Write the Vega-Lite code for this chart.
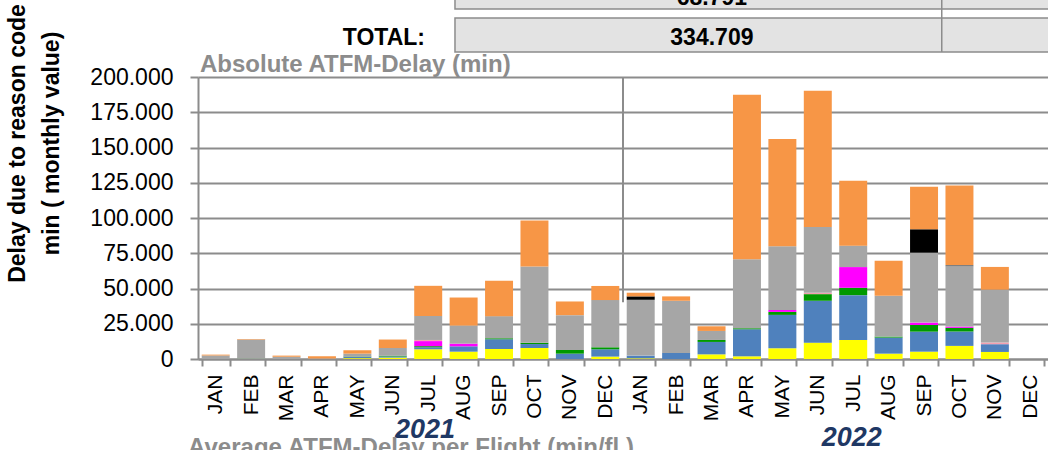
{
  "$schema": "https://vega.github.io/schema/vega-lite/v6.json",
  "autosize": {"type": "none"},
  "padding": {"left": 198, "top": 77, "right": 0, "bottom": 91},
  "width": 850,
  "height": 282,
  "background": "white",
  "config": {"view": {"stroke": null}, "font": "Liberation Sans"},
  "data": {"values": [
    {"month": "JAN 2021", "reason": "Reason F", "minutes": 2500},
    {"month": "JAN 2021", "reason": "Reason I", "minutes": 600},
    {"month": "FEB 2021", "reason": "Reason C", "minutes": 200},
    {"month": "FEB 2021", "reason": "Reason F", "minutes": 13600},
    {"month": "FEB 2021", "reason": "Reason I", "minutes": 400},
    {"month": "MAR 2021", "reason": "Reason F", "minutes": 1600},
    {"month": "MAR 2021", "reason": "Reason I", "minutes": 800},
    {"month": "APR 2021", "reason": "Reason F", "minutes": 400},
    {"month": "APR 2021", "reason": "Reason I", "minutes": 1500},
    {"month": "MAY 2021", "reason": "Reason A", "minutes": 600},
    {"month": "MAY 2021", "reason": "Reason B", "minutes": 800},
    {"month": "MAY 2021", "reason": "Reason C", "minutes": 300},
    {"month": "MAY 2021", "reason": "Reason F", "minutes": 2100},
    {"month": "MAY 2021", "reason": "Reason I", "minutes": 2400},
    {"month": "JUN 2021", "reason": "Reason A", "minutes": 1000},
    {"month": "JUN 2021", "reason": "Reason B", "minutes": 800},
    {"month": "JUN 2021", "reason": "Reason C", "minutes": 500},
    {"month": "JUN 2021", "reason": "Reason F", "minutes": 5500},
    {"month": "JUN 2021", "reason": "Reason I", "minutes": 6000},
    {"month": "JUL 2021", "reason": "Reason A", "minutes": 6900},
    {"month": "JUL 2021", "reason": "Reason B", "minutes": 1400},
    {"month": "JUL 2021", "reason": "Reason C", "minutes": 800},
    {"month": "JUL 2021", "reason": "Reason D", "minutes": 3600},
    {"month": "JUL 2021", "reason": "Reason E", "minutes": 800},
    {"month": "JUL 2021", "reason": "Reason F", "minutes": 17000},
    {"month": "JUL 2021", "reason": "Reason I", "minutes": 21400},
    {"month": "AUG 2021", "reason": "Reason A", "minutes": 5200},
    {"month": "AUG 2021", "reason": "Reason B", "minutes": 3800},
    {"month": "AUG 2021", "reason": "Reason D", "minutes": 1900},
    {"month": "AUG 2021", "reason": "Reason F", "minutes": 12800},
    {"month": "AUG 2021", "reason": "Reason I", "minutes": 19900},
    {"month": "SEP 2021", "reason": "Reason A", "minutes": 7100},
    {"month": "SEP 2021", "reason": "Reason B", "minutes": 6900},
    {"month": "SEP 2021", "reason": "Reason C", "minutes": 700},
    {"month": "SEP 2021", "reason": "Reason F", "minutes": 15700},
    {"month": "SEP 2021", "reason": "Reason I", "minutes": 25100},
    {"month": "OCT 2021", "reason": "Reason A", "minutes": 7800},
    {"month": "OCT 2021", "reason": "Reason B", "minutes": 2800},
    {"month": "OCT 2021", "reason": "Reason C", "minutes": 900},
    {"month": "OCT 2021", "reason": "Reason F", "minutes": 54100},
    {"month": "OCT 2021", "reason": "Reason I", "minutes": 32700},
    {"month": "NOV 2021", "reason": "Reason B", "minutes": 3800},
    {"month": "NOV 2021", "reason": "Reason C", "minutes": 2600},
    {"month": "NOV 2021", "reason": "Reason F", "minutes": 24700},
    {"month": "NOV 2021", "reason": "Reason I", "minutes": 9700},
    {"month": "DEC 2021", "reason": "Reason A", "minutes": 1700},
    {"month": "DEC 2021", "reason": "Reason B", "minutes": 5200},
    {"month": "DEC 2021", "reason": "Reason C", "minutes": 1400},
    {"month": "DEC 2021", "reason": "Reason F", "minutes": 33500},
    {"month": "DEC 2021", "reason": "Reason I", "minutes": 10000},
    {"month": "JAN 2022", "reason": "Reason A", "minutes": 500},
    {"month": "JAN 2022", "reason": "Reason B", "minutes": 1900},
    {"month": "JAN 2022", "reason": "Reason F", "minutes": 39600},
    {"month": "JAN 2022", "reason": "Reason H", "minutes": 2400},
    {"month": "JAN 2022", "reason": "Reason I", "minutes": 2600},
    {"month": "FEB 2022", "reason": "Reason B", "minutes": 4300},
    {"month": "FEB 2022", "reason": "Reason F", "minutes": 37000},
    {"month": "FEB 2022", "reason": "Reason I", "minutes": 3100},
    {"month": "MAR 2022", "reason": "Reason A", "minutes": 3300},
    {"month": "MAR 2022", "reason": "Reason B", "minutes": 8800},
    {"month": "MAR 2022", "reason": "Reason C", "minutes": 1400},
    {"month": "MAR 2022", "reason": "Reason F", "minutes": 6400},
    {"month": "MAR 2022", "reason": "Reason I", "minutes": 3300},
    {"month": "APR 2022", "reason": "Reason A", "minutes": 1900},
    {"month": "APR 2022", "reason": "Reason B", "minutes": 19200},
    {"month": "APR 2022", "reason": "Reason C", "minutes": 700},
    {"month": "APR 2022", "reason": "Reason F", "minutes": 48900},
    {"month": "APR 2022", "reason": "Reason I", "minutes": 116700},
    {"month": "MAY 2022", "reason": "Reason A", "minutes": 7600},
    {"month": "MAY 2022", "reason": "Reason B", "minutes": 23700},
    {"month": "MAY 2022", "reason": "Reason C", "minutes": 2100},
    {"month": "MAY 2022", "reason": "Reason D", "minutes": 1400},
    {"month": "MAY 2022", "reason": "Reason F", "minutes": 45100},
    {"month": "MAY 2022", "reason": "Reason I", "minutes": 76200},
    {"month": "JUN 2022", "reason": "Reason A", "minutes": 11600},
    {"month": "JUN 2022", "reason": "Reason B", "minutes": 29700},
    {"month": "JUN 2022", "reason": "Reason C", "minutes": 4700},
    {"month": "JUN 2022", "reason": "Reason E", "minutes": 900},
    {"month": "JUN 2022", "reason": "Reason F", "minutes": 46700},
    {"month": "JUN 2022", "reason": "Reason I", "minutes": 96600},
    {"month": "JUL 2022", "reason": "Reason A", "minutes": 13500},
    {"month": "JUL 2022", "reason": "Reason B", "minutes": 31800},
    {"month": "JUL 2022", "reason": "Reason C", "minutes": 5200},
    {"month": "JUL 2022", "reason": "Reason D", "minutes": 14700},
    {"month": "JUL 2022", "reason": "Reason F", "minutes": 15200},
    {"month": "JUL 2022", "reason": "Reason I", "minutes": 46000},
    {"month": "AUG 2022", "reason": "Reason A", "minutes": 3800},
    {"month": "AUG 2022", "reason": "Reason B", "minutes": 11400},
    {"month": "AUG 2022", "reason": "Reason C", "minutes": 700},
    {"month": "AUG 2022", "reason": "Reason F", "minutes": 28900},
    {"month": "AUG 2022", "reason": "Reason I", "minutes": 24900},
    {"month": "SEP 2022", "reason": "Reason A", "minutes": 5200},
    {"month": "SEP 2022", "reason": "Reason B", "minutes": 14200},
    {"month": "SEP 2022", "reason": "Reason C", "minutes": 4700},
    {"month": "SEP 2022", "reason": "Reason D", "minutes": 1700},
    {"month": "SEP 2022", "reason": "Reason F", "minutes": 49600},
    {"month": "SEP 2022", "reason": "Reason H", "minutes": 16600},
    {"month": "SEP 2022", "reason": "Reason I", "minutes": 30100},
    {"month": "OCT 2022", "reason": "Reason A", "minutes": 9300},
    {"month": "OCT 2022", "reason": "Reason B", "minutes": 10200},
    {"month": "OCT 2022", "reason": "Reason C", "minutes": 2600},
    {"month": "OCT 2022", "reason": "Reason D", "minutes": 900},
    {"month": "OCT 2022", "reason": "Reason F", "minutes": 42900},
    {"month": "OCT 2022", "reason": "Reason G", "minutes": 800},
    {"month": "OCT 2022", "reason": "Reason I", "minutes": 56400},
    {"month": "NOV 2022", "reason": "Reason A", "minutes": 5000},
    {"month": "NOV 2022", "reason": "Reason B", "minutes": 5500},
    {"month": "NOV 2022", "reason": "Reason E", "minutes": 1200},
    {"month": "NOV 2022", "reason": "Reason F", "minutes": 37500},
    {"month": "NOV 2022", "reason": "Reason I", "minutes": 16100}
  ]},
  "layer": [
    {
      "mark": {"type": "bar"},
      "encoding": {
        "x": {"field": "month", "type": "nominal",
          "scale": {"domain": ["JAN 2021","FEB 2021","MAR 2021","APR 2021","MAY 2021","JUN 2021","JUL 2021","AUG 2021","SEP 2021","OCT 2021","NOV 2021","DEC 2021","JAN 2022","FEB 2022","MAR 2022","APR 2022","MAY 2022","JUN 2022","JUL 2022","AUG 2022","SEP 2022","OCT 2022","NOV 2022","DEC 2022"], "paddingInner": 0.21, "paddingOuter": 0.105},
          "sort": null,
          "axis": {"title": null, "labelExpr": "slice(datum.label, 0, 3)", "labelAngle": 270, "labelAlign": "right", "labelBaseline": "middle", "labelFont": "Liberation Sans", "labelFontSize": 21, "labelColor": "#000000", "labelPadding": 8, "tickSize": 7, "tickWidth": 2, "tickColor": "#8C8C8C", "domainColor": "#8C8C8C", "domainWidth": 2, "tickBand": "extent", "grid": false}},
        "y": {"field": "minutes", "type": "quantitative", "stack": "zero",
          "scale": {"domain": [0, 200000], "nice": false},
          "axis": {"title": ["Delay due to reason code", "min ( monthly value)"], "titleFont": "Liberation Sans", "titleFontSize": 23, "titleFontWeight": "bold", "titleColor": "#000000", "titleAngle": 270, "titleAlign": "center", "titleBaseline": "middle", "titleX": -181, "titleY": 66, "titleLineHeight": 34,
            "values": [0, 25000, 50000, 75000, 100000, 125000, 150000, 175000, 200000],
            "labelExpr": "datum.value == 0 ? '0' : format(datum.value / 1000, 'd') + '.000'",
            "labelFont": "Liberation Sans", "labelFontSize": 23, "labelColor": "#000000", "labelPadding": 17, "tickSize": 8, "tickWidth": 2, "tickColor": "#8C8C8C", "domainColor": "#8C8C8C", "domainWidth": 2, "grid": true, "gridColor": "#8C8C8C", "gridWidth": 2}},
        "color": {"field": "reason", "type": "nominal",
          "scale": {"domain": ["Reason A","Reason B","Reason C","Reason D","Reason E","Reason F","Reason G","Reason H","Reason I"], "range": ["#FFFF00","#4F81BD","#009900","#FF00FF","#F4A0B0","#A6A6A6","#7F7F7F","#000000","#F79646"]},
          "legend": null},
        "order": {"field": "reason", "sort": "ascending"}
      }
    },
    {
      "layer": [
        {
          "data": {"values": [{}]},
          "mark": {"type": "rect", "fill": "#E3E3E3", "stroke": "#8C8C8C", "strokeWidth": 1.5},
          "encoding": {
            "x": {"datum": 7.256, "type": "quantitative", "scale": {"domain": [0, 24], "nice": false, "zero": false}, "axis": null},
            "x2": {"datum": 24.5},
            "y": {"datum": 217700, "type": "quantitative", "scale": {"domain": [0, 200000], "nice": false}, "axis": null},
            "y2": {"datum": 241800}
          }
        },
        {
          "data": {"values": [{}]},
          "mark": {"type": "rect", "fill": "#E3E3E3", "stroke": "#8C8C8C", "strokeWidth": 1.5},
          "encoding": {
            "x": {"datum": 7.256, "type": "quantitative", "scale": {"domain": [0, 24], "nice": false, "zero": false}, "axis": null},
            "x2": {"datum": 24.5},
            "y": {"datum": 248200, "type": "quantitative", "scale": {"domain": [0, 200000], "nice": false}, "axis": null},
            "y2": {"datum": 280000}
          }
        },
        {
          "data": {"values": [{}]},
          "mark": {"type": "rule", "stroke": "#8C8C8C", "strokeWidth": 1.5},
          "encoding": {
            "x": {"datum": 21, "type": "quantitative", "scale": {"domain": [0, 24], "nice": false, "zero": false}, "axis": null},
            "y": {"datum": 217700, "type": "quantitative", "scale": {"domain": [0, 200000], "nice": false}, "axis": null},
            "y2": {"datum": 280000}
          }
        },
        {
          "data": {"values": [{}]},
          "mark": {"type": "rule", "stroke": "#8C8C8C", "strokeWidth": 2},
          "encoding": {
            "x": {"datum": 12, "type": "quantitative", "scale": {"domain": [0, 24], "nice": false, "zero": false}, "axis": null},
            "y": {"datum": 40200, "type": "quantitative", "scale": {"domain": [0, 200000], "nice": false}, "axis": null},
            "y2": {"datum": 200000}
          }
        },
        {
          "data": {"values": [{}]},
          "mark": {"type": "text", "text": "Absolute ATFM-Delay (min)", "align": "left", "baseline": "alphabetic", "font": "Liberation Sans", "fontSize": 24, "fontWeight": "bold", "fill": "#8C8C8C"},
          "encoding": {
            "x": {"datum": 0.056, "type": "quantitative", "scale": {"domain": [0, 24], "nice": false, "zero": false}, "axis": null},
            "y": {"datum": 203500, "type": "quantitative", "scale": {"domain": [0, 200000], "nice": false}, "axis": null}
          }
        },
        {
          "data": {"values": [{}]},
          "mark": {"type": "text", "text": "TOTAL:", "align": "right", "baseline": "alphabetic", "font": "Liberation Sans", "fontSize": 23, "fontWeight": "bold", "fill": "#000000"},
          "encoding": {
            "x": {"datum": 6.41, "type": "quantitative", "scale": {"domain": [0, 24], "nice": false, "zero": false}, "axis": null},
            "y": {"datum": 222700, "type": "quantitative", "scale": {"domain": [0, 200000], "nice": false}, "axis": null}
          }
        },
        {
          "data": {"values": [{}]},
          "mark": {"type": "text", "text": "334.709", "align": "center", "baseline": "alphabetic", "font": "Liberation Sans", "fontSize": 23, "fontWeight": "bold", "fill": "#000000"},
          "encoding": {
            "x": {"datum": 14.51, "type": "quantitative", "scale": {"domain": [0, 24], "nice": false, "zero": false}, "axis": null},
            "y": {"datum": 222700, "type": "quantitative", "scale": {"domain": [0, 200000], "nice": false}, "axis": null}
          }
        },
        {
          "data": {"values": [{}]},
          "mark": {"type": "text", "text": "68.791", "align": "center", "baseline": "alphabetic", "font": "Liberation Sans", "fontSize": 23, "fontWeight": "bold", "fill": "#000000"},
          "encoding": {
            "x": {"datum": 14.51, "type": "quantitative", "scale": {"domain": [0, 24], "nice": false, "zero": false}, "axis": null},
            "y": {"datum": 250800, "type": "quantitative", "scale": {"domain": [0, 200000], "nice": false}, "axis": null}
          }
        },
        {
          "data": {"values": [{}]},
          "mark": {"type": "text", "text": "2021", "align": "center", "baseline": "alphabetic", "font": "Liberation Sans", "fontSize": 27, "fontWeight": "bold", "fontStyle": "italic", "fill": "#1F3864"},
          "encoding": {
            "x": {"datum": 6.41, "type": "quantitative", "scale": {"domain": [0, 24], "nice": false, "zero": false}, "axis": null},
            "y": {"datum": -56000, "type": "quantitative", "scale": {"domain": [0, 200000], "nice": false}, "axis": null}
          }
        },
        {
          "data": {"values": [{}]},
          "mark": {"type": "text", "text": "2022", "align": "center", "baseline": "alphabetic", "font": "Liberation Sans", "fontSize": 27, "fontWeight": "bold", "fontStyle": "italic", "fill": "#1F3864"},
          "encoding": {
            "x": {"datum": 18.46, "type": "quantitative", "scale": {"domain": [0, 24], "nice": false, "zero": false}, "axis": null},
            "y": {"datum": -61500, "type": "quantitative", "scale": {"domain": [0, 200000], "nice": false}, "axis": null}
          }
        },
        {
          "data": {"values": [{}]},
          "mark": {"type": "text", "text": "Average ATFM-Delay per Flight (min/fl.)", "align": "left", "baseline": "alphabetic", "font": "Liberation Sans", "fontSize": 24, "fontWeight": "bold", "fill": "#8C8C8C"},
          "encoding": {
            "x": {"datum": -0.28, "type": "quantitative", "scale": {"domain": [0, 24], "nice": false, "zero": false}, "axis": null},
            "y": {"datum": -68100, "type": "quantitative", "scale": {"domain": [0, 200000], "nice": false}, "axis": null}
          }
        }
      ]
    }
  ],
  "resolve": {"scale": {"x": "independent"}, "axis": {"x": "independent", "y": "independent"}}
}
